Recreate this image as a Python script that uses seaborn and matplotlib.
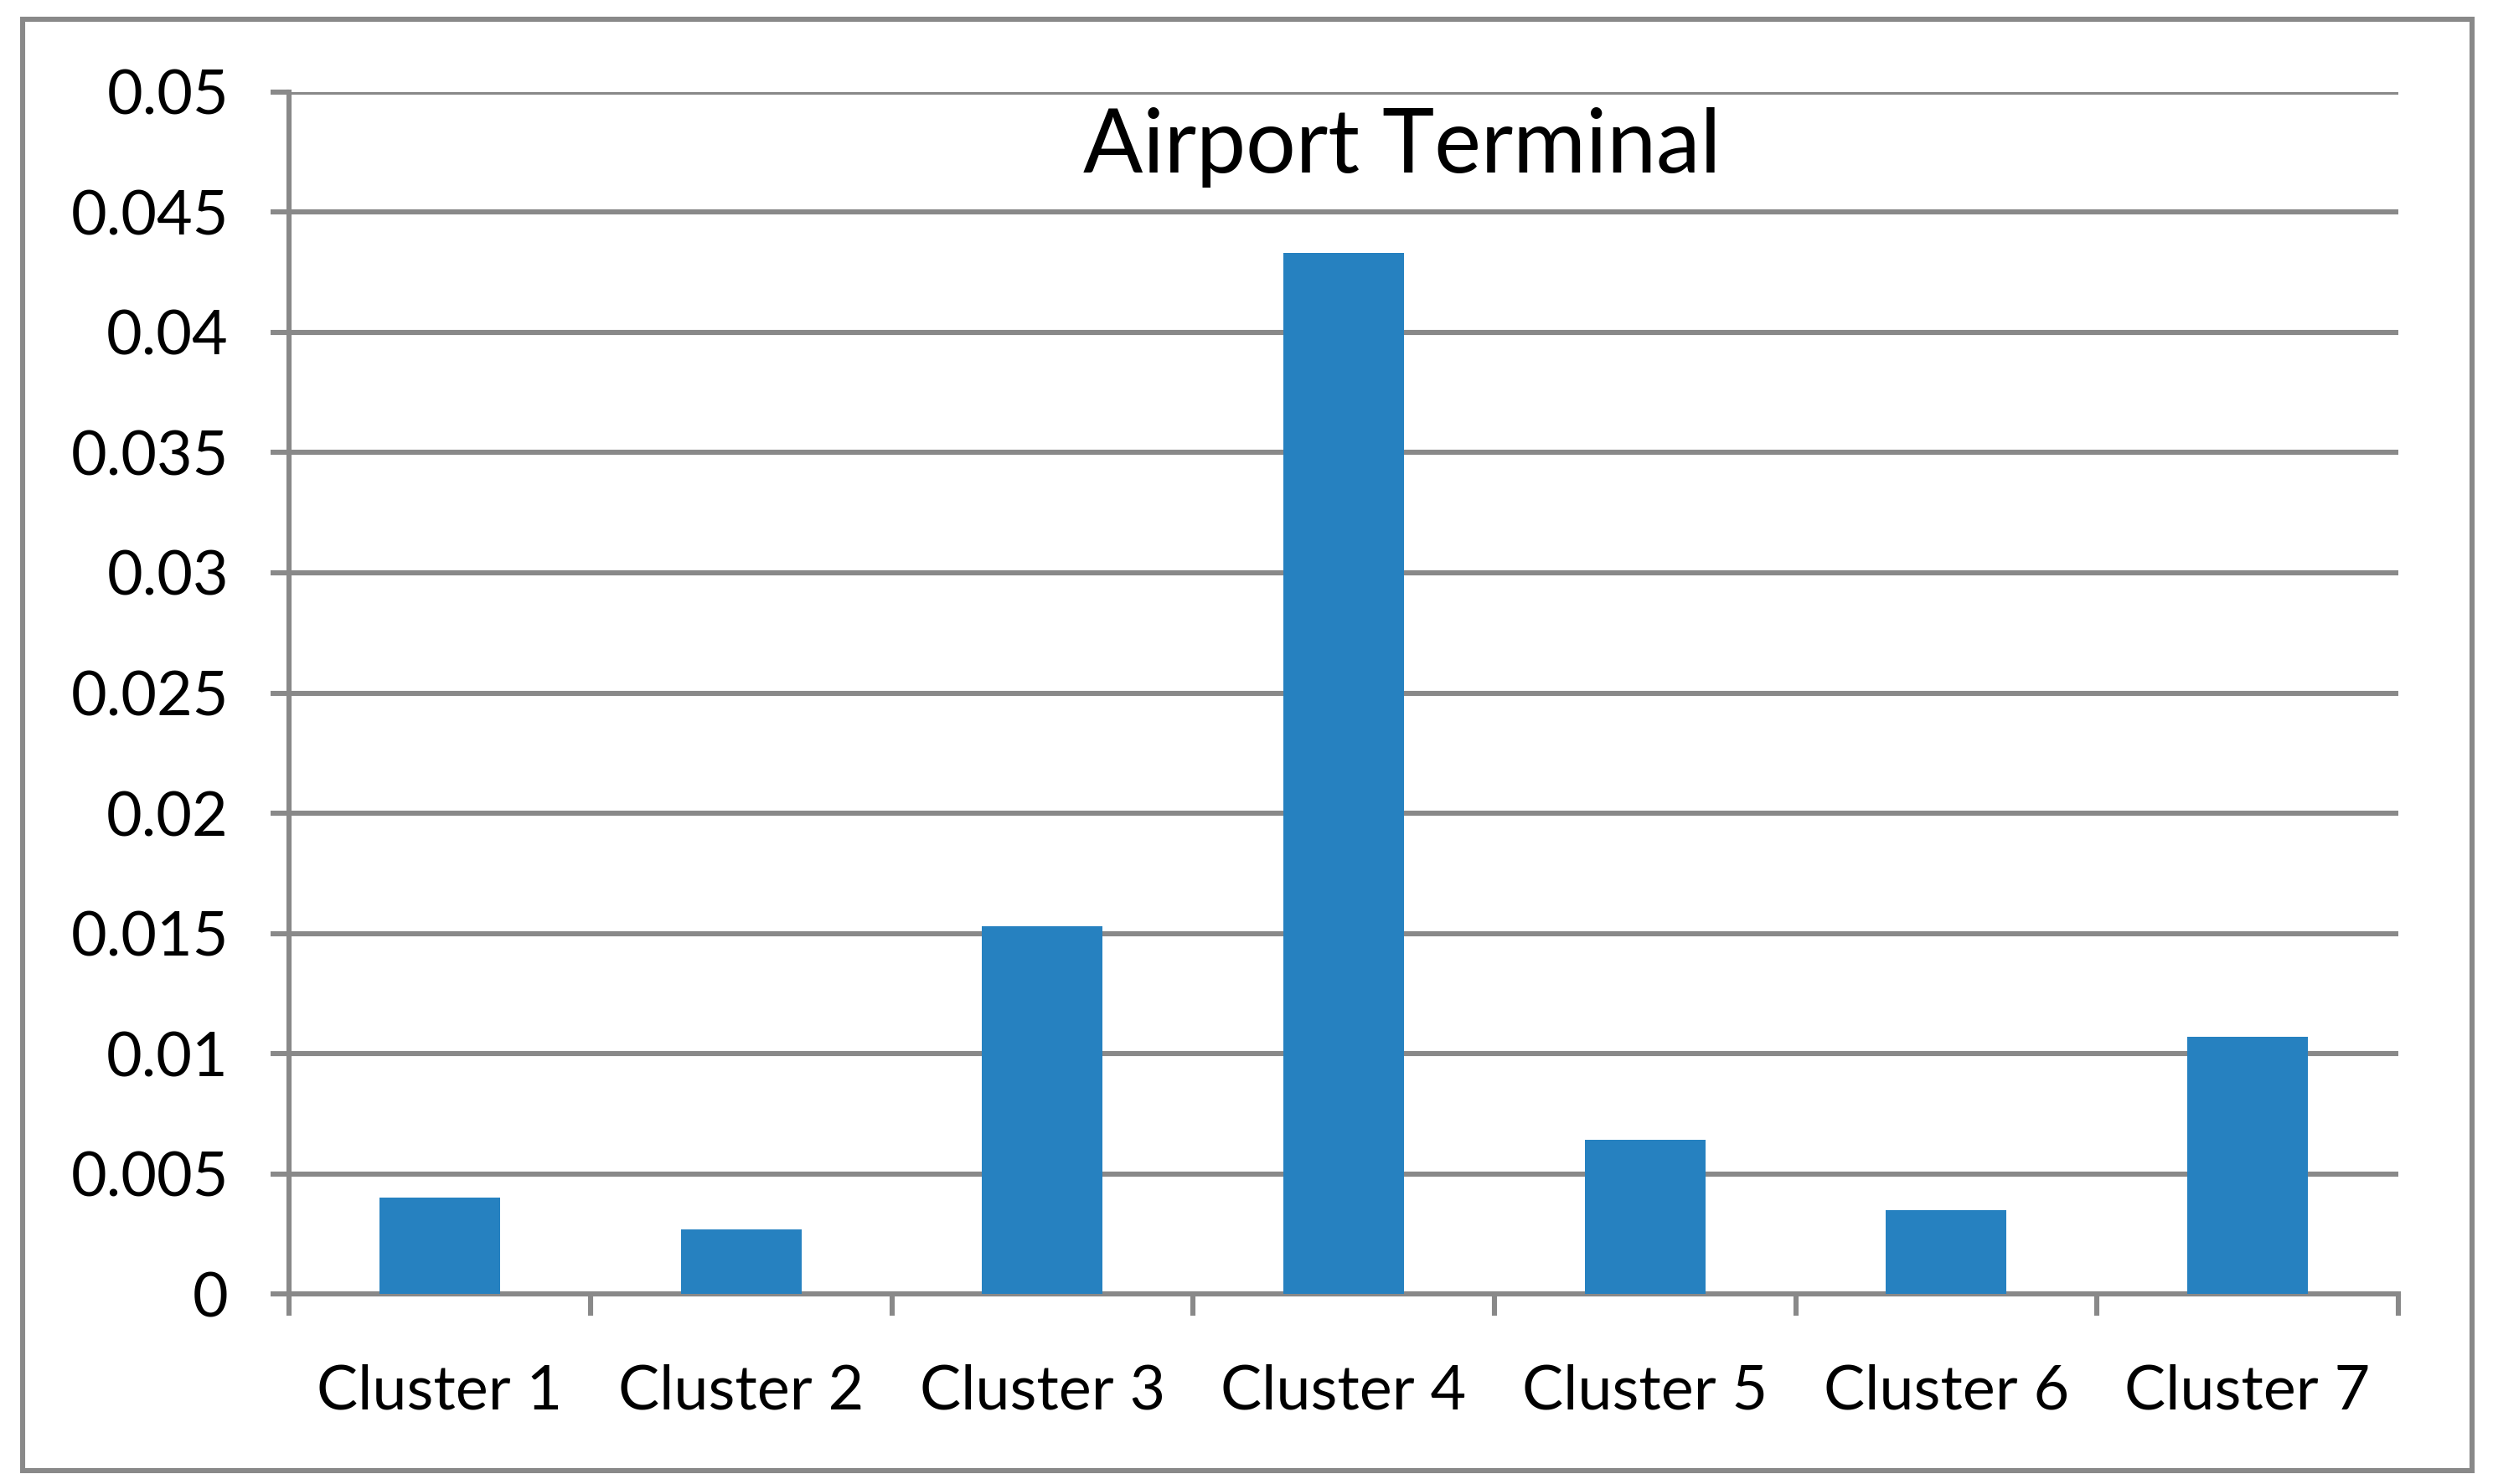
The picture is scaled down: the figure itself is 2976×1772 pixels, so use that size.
import matplotlib
matplotlib.use("Agg")
import matplotlib.pyplot as plt
from matplotlib.patches import Rectangle
from matplotlib.ticker import FixedLocator
import seaborn as sns
import pandas as pd

categories = ["Cluster 1", "Cluster 2", "Cluster 3", "Cluster 4", "Cluster 5", "Cluster 6", "Cluster 7"]
values = [0.0040, 0.0027, 0.0153, 0.0433, 0.0064, 0.0035, 0.0107]
y_ticks = [0, 0.005, 0.01, 0.015, 0.02, 0.025, 0.03, 0.035, 0.04, 0.045, 0.05]
y_tick_labels = ["0", "0.005", "0.01", "0.015", "0.02", "0.025", "0.03", "0.035", "0.04", "0.045", "0.05"]
title = "Airport Terminal"

sns.set_theme(style="white")
plt.rcParams["font.family"] = ["Lato", "DejaVu Sans"]

GRAY = "#898989"
BLUE = "#2681C0"

fig = plt.figure(figsize=(14.88, 8.86), dpi=200)
ax = fig.add_axes([0.116, 0.128, 0.962 - 0.116, 0.938 - 0.128])

df = pd.DataFrame({"cat": categories, "val": values})
sns.barplot(data=df, x="cat", y="val", color=BLUE, saturation=1, width=0.4, ax=ax,
            zorder=3, linewidth=0, edgecolor=BLUE)

ax.set_xlim(-0.5, len(categories) - 0.5)
ax.set_ylim(0, 0.05)
ax.set_yticks(y_ticks)
ax.set_yticklabels(y_tick_labels, fontsize=26.5, color="black")
ax.set_xlabel("")
ax.set_ylabel("")
ax.set_xticks(range(len(categories)))
ax.set_xticklabels(categories, fontsize=26.5, color="black")
ax.xaxis.set_minor_locator(FixedLocator([i - 0.5 for i in range(len(categories) + 1)]))

ax.yaxis.grid(True, color=GRAY, linewidth=2.2)
ax.xaxis.grid(False)
ax.set_axisbelow(True)

for s in ["top", "right"]:
    ax.spines[s].set_visible(False)
for s in ["left", "bottom"]:
    ax.spines[s].set_visible(True)
    ax.spines[s].set_color(GRAY)
    ax.spines[s].set_linewidth(2.2)

ax.tick_params(axis="y", which="major", direction="out", length=8, width=2.2, color=GRAY, pad=18, left=True)
ax.tick_params(axis="x", which="major", length=0, pad=30, bottom=True)
ax.tick_params(axis="x", which="minor", direction="out", length=9.5, width=2.2, color=GRAY, bottom=True)

fig.text(0.5625, 0.884, title, fontsize=38, ha="center", va="baseline", color="black")

border = Rectangle((0.009, 0.009), 0.9916 - 0.009, 0.987 - 0.009, transform=fig.transFigure,
                   fill=False, edgecolor=GRAY, linewidth=2.2)
fig.patches.append(border)

fig.savefig("out.png", dpi=200, facecolor="white")
